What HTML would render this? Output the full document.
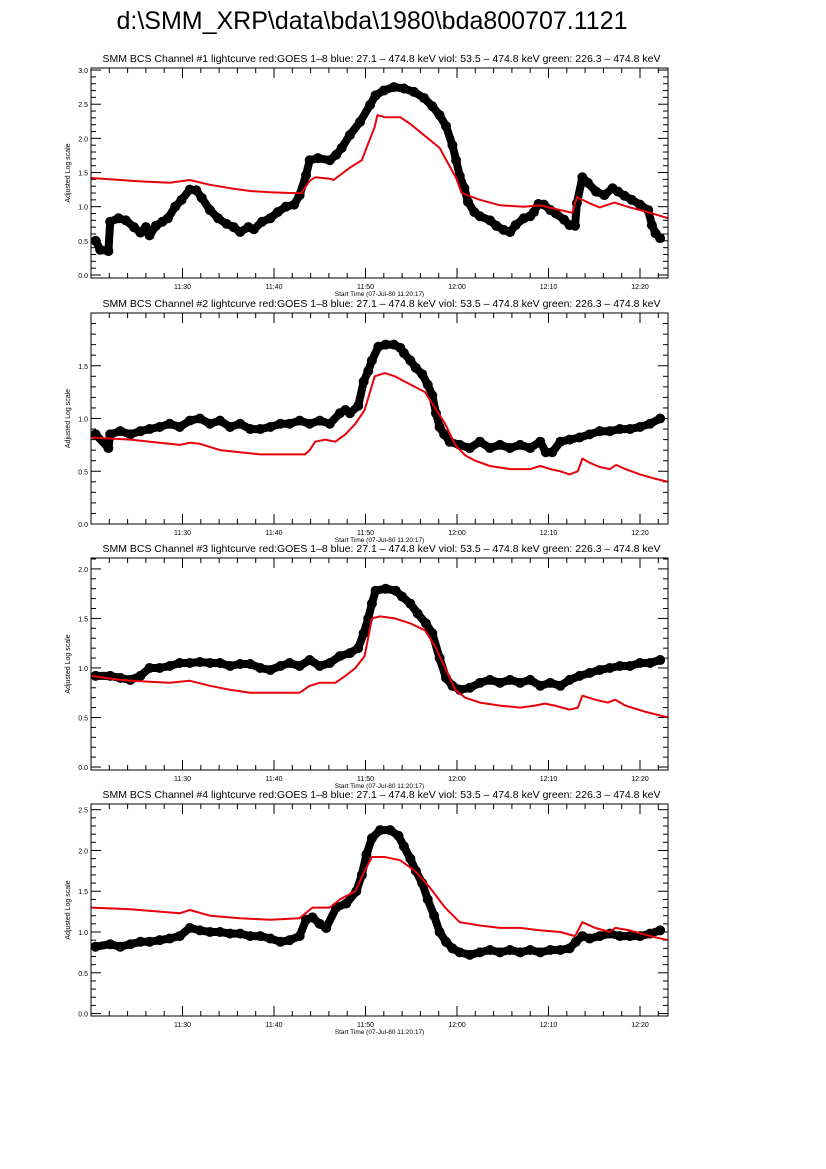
<!DOCTYPE html>
<html><head><meta charset="utf-8"><style>
body{margin:0;background:#fff;}
svg{display:block;font-family:"Liberation Sans",sans-serif;}
</style></head><body>
<svg id="chart" width="826" height="1169" viewBox="0 0 826 1169" xmlns="http://www.w3.org/2000/svg">
<rect width="826" height="1169" fill="#fff"/>
<text x="372" y="29" font-size="25" text-anchor="middle">d:\SMM_XRP\data\bda\1980\bda800707.1121</text>
</svg>
<script>
// x values: minutes after 11:20
const xTickLabels = ["11:30","11:40","11:50","12:00","12:10","12:20"];
const xTickMinutes = [10,20,30,40,50,60];

const p1BlackT = [0.5,1.0,1.9,2.1,3.0,3.8,4.7,5.4,6.0,6.4,7.1,7.8,8.4,9.2,9.9,10.8,11.5,12.1,13.0,13.9,14.8,15.6,16.3,17.2,17.8,18.7,19.6,20.4,21.3,22.2,22.8,23.5,23.9,24.8,26.1,26.8,27.4,28.3,29.4,30.5,31.1,32.0,33.1,34.2,35.3,36.4,37.3,38.1,38.8,39.5,39.9,40.3,40.8,41.2,41.9,42.5,43.6,44.3,45.1,45.8,46.4,47.3,48.0,48.4,48.9,49.5,50.2,50.8,51.7,52.3,52.9,53.1,53.7,54.3,55.2,56.1,57.0,57.6,58.3,59.1,60.0,60.9,61.3,61.7,62.2];
const p1BlackV = [0.5,0.37,0.35,0.78,0.83,0.8,0.7,0.62,0.7,0.58,0.72,0.78,0.83,1.0,1.1,1.25,1.24,1.13,0.95,0.83,0.75,0.7,0.63,0.7,0.67,0.78,0.83,0.92,1.0,1.03,1.17,1.46,1.68,1.71,1.68,1.76,1.86,2.05,2.24,2.49,2.63,2.7,2.75,2.73,2.68,2.59,2.47,2.34,2.18,1.9,1.68,1.45,1.27,1.07,0.92,0.86,0.8,0.72,0.66,0.63,0.73,0.83,0.86,0.92,1.04,1.03,0.95,0.9,0.81,0.73,0.72,1.05,1.43,1.35,1.22,1.17,1.27,1.22,1.16,1.1,1.03,0.95,0.73,0.61,0.54];
const p1RedT = [0,5.4,8.6,10.8,13.0,15.2,17.4,19.6,21.7,23.0,23.9,24.5,26.1,26.5,28.3,29.6,31.0,31.3,32.1,33.8,34.9,36.0,38.1,39.9,40.5,42.5,44.7,47.3,49.1,51.3,52.6,53.1,54.5,55.6,57.2,58.9,61.1,63.1];
const p1RedV = [1.42,1.37,1.35,1.39,1.32,1.27,1.23,1.21,1.2,1.2,1.38,1.43,1.41,1.39,1.57,1.68,2.17,2.34,2.31,2.31,2.21,2.09,1.86,1.42,1.2,1.1,1.02,1.0,1.02,0.95,0.91,1.14,1.05,0.99,1.06,0.99,0.91,0.83];

const p2BlackT = [0.5,1.9,2.1,3.2,4.3,5.4,6.4,7.5,8.6,9.7,10.8,11.9,13.0,14.1,15.2,16.3,17.4,18.5,19.6,20.7,21.7,22.8,23.9,25.0,26.1,27.2,27.8,28.3,29.2,29.8,30.3,30.7,31.4,32.2,33.1,33.8,34.2,34.9,35.5,36.2,36.8,37.3,37.7,38.1,38.6,39.2,40.3,41.4,42.5,43.6,44.7,45.8,46.9,48.0,49.1,49.7,50.4,51.3,52.3,53.4,54.5,55.6,56.7,57.8,58.9,60.0,61.1,62.2];
const p2BlackV = [0.85,0.72,0.85,0.88,0.85,0.88,0.9,0.92,0.95,0.92,0.98,1.0,0.95,0.98,0.92,0.95,0.9,0.9,0.92,0.95,0.95,0.98,0.95,0.98,0.95,1.05,1.08,1.05,1.12,1.35,1.45,1.55,1.68,1.7,1.7,1.67,1.62,1.55,1.48,1.42,1.32,1.22,1.05,0.92,0.85,0.78,0.75,0.72,0.78,0.72,0.75,0.72,0.75,0.72,0.78,0.68,0.68,0.78,0.8,0.82,0.85,0.88,0.88,0.9,0.9,0.92,0.95,1.0];
const p2RedT = [0,4.3,7.5,9.7,10.8,11.9,14.1,16.3,18.5,21.7,23.4,23.9,24.5,25.6,26.7,27.8,28.9,29.9,31.0,32.1,33.2,34.3,35.4,36.5,37.6,38.7,39.8,40.9,42.0,43.6,45.8,48.0,49.1,50.2,51.3,52.3,53.2,53.7,54.5,55.6,56.7,57.4,58.4,60.0,61.6,63.1];
const p2RedV = [0.82,0.8,0.77,0.75,0.77,0.76,0.7,0.68,0.66,0.66,0.66,0.7,0.78,0.8,0.78,0.85,0.95,1.08,1.4,1.43,1.4,1.35,1.3,1.25,1.1,0.95,0.75,0.65,0.6,0.55,0.52,0.52,0.55,0.52,0.5,0.47,0.5,0.62,0.58,0.54,0.52,0.56,0.52,0.47,0.43,0.4];

const p3BlackT = [0.5,2.1,3.2,4.3,5.4,6.4,7.5,8.6,9.7,10.8,11.9,13.0,14.1,15.2,16.3,17.4,18.5,19.6,20.7,21.7,22.8,23.9,25.0,26.1,27.2,28.3,29.2,29.8,30.3,30.7,31.1,32.2,33.3,34.0,34.9,35.7,36.6,37.3,38.1,38.8,39.5,40.3,41.4,42.5,43.6,44.7,45.8,46.9,48.0,49.1,50.2,51.3,52.3,53.4,54.5,55.6,56.7,57.8,58.9,60.0,61.1,62.2];
const p3BlackV = [0.92,0.92,0.9,0.88,0.92,1.0,1.0,1.02,1.05,1.05,1.06,1.05,1.05,1.02,1.04,1.04,1.0,0.98,1.02,1.05,1.02,1.08,1.02,1.05,1.12,1.15,1.2,1.35,1.5,1.65,1.78,1.8,1.78,1.72,1.65,1.55,1.45,1.35,1.1,0.9,0.82,0.78,0.8,0.85,0.88,0.85,0.88,0.85,0.88,0.82,0.85,0.82,0.88,0.92,0.95,0.98,1.0,1.02,1.02,1.05,1.05,1.08];
const p3RedT = [0,3.2,6.4,8.6,10.8,13.0,15.2,17.4,19.6,22.8,23.9,25.0,26.7,27.8,28.9,29.9,30.7,31.6,33.2,34.9,36.5,37.6,38.7,39.8,40.9,42.5,44.7,46.9,48.5,49.6,50.7,52.3,53.2,53.7,55.1,56.5,57.3,58.4,60.5,63.1];
const p3RedV = [0.92,0.88,0.86,0.85,0.87,0.82,0.78,0.75,0.75,0.75,0.82,0.85,0.85,0.92,1.0,1.12,1.5,1.52,1.5,1.45,1.38,1.22,1.0,0.78,0.7,0.65,0.62,0.6,0.62,0.64,0.62,0.58,0.6,0.72,0.68,0.65,0.68,0.62,0.56,0.5];

const p4BlackT = [0.5,2.1,3.2,4.3,5.4,6.4,7.5,8.6,9.7,10.8,11.9,13.0,14.1,15.2,16.3,17.4,18.5,19.6,20.7,21.7,22.8,23.5,24.2,25.0,25.7,26.8,27.9,29.0,29.6,30.1,30.7,31.6,32.7,33.6,34.2,34.9,35.5,36.2,36.8,37.5,38.1,38.8,39.5,40.3,41.4,42.5,43.6,44.7,45.8,46.9,48.0,49.1,50.2,51.3,52.3,53.0,53.7,54.5,55.6,56.7,57.8,58.9,60.0,61.1,62.2];
const p4BlackV = [0.82,0.85,0.82,0.85,0.88,0.88,0.9,0.92,0.95,1.05,1.02,1.0,1.0,0.98,0.98,0.95,0.95,0.92,0.88,0.9,0.95,1.15,1.18,1.1,1.05,1.3,1.35,1.5,1.7,1.95,2.15,2.25,2.25,2.18,2.05,1.9,1.75,1.6,1.4,1.2,1.0,0.88,0.8,0.75,0.72,0.75,0.78,0.75,0.78,0.75,0.78,0.75,0.78,0.78,0.8,0.88,0.95,0.92,0.95,0.98,0.95,0.95,0.95,0.98,1.02];
const p4RedT = [0,4.3,7.5,9.7,10.8,13.0,16.3,19.6,22.8,24.2,26.1,27.2,28.9,29.9,30.7,32.1,33.8,35.4,37.0,38.7,40.3,42.5,44.7,46.9,49.1,51.3,52.9,53.7,55.1,56.7,57.3,58.9,61.1,63.1];
const p4RedV = [1.3,1.28,1.25,1.23,1.27,1.2,1.17,1.15,1.17,1.3,1.3,1.4,1.5,1.75,1.92,1.92,1.88,1.75,1.55,1.3,1.12,1.08,1.05,1.05,1.02,1.0,0.95,1.12,1.05,1.0,1.05,1.02,0.95,0.9];

const yTickLabels1 = ["0.0","0.5","1.0","1.5","2.0","2.5","3.0"];
const yTickLabels2 = ["0.0","0.5","1.0","1.5"];
const yTickLabels3 = ["0.0","0.5","1.0","1.5","2.0"];
const yTickLabels4 = ["0.0","0.5","1.0","1.5","2.0","2.5"];

const NS="http://www.w3.org/2000/svg";
const svg=document.getElementById('chart');
function mk(tag,attrs,parent){const e=document.createElementNS(NS,tag);for(const k in attrs)e.setAttribute(k,attrs[k]);(parent||svg).appendChild(e);return e;}

const X0=91,X1=668,TMIN=0,TMAX=63.06;
const panels=[
 {n:1,top:68,bot:278,ymin:-0.044,ymax:3.03,labels:yTickLabels1,bt:p1BlackT,bv:p1BlackV,rt:p1RedT,rv:p1RedV},
 {n:2,top:313,bot:524,ymin:0,ymax:2.0,labels:yTickLabels2,bt:p2BlackT,bv:p2BlackV,rt:p2RedT,rv:p2RedV},
 {n:3,top:558,bot:770,ymin:-0.03,ymax:2.11,labels:yTickLabels3,bt:p3BlackT,bv:p3BlackV,rt:p3RedT,rv:p3RedV},
 {n:4,top:804,bot:1016,ymin:-0.03,ymax:2.57,labels:yTickLabels4,bt:p4BlackT,bv:p4BlackV,rt:p4RedT,rv:p4RedV}
];
const xs=t=>X0+(t-TMIN)/(TMAX-TMIN)*(X1-X0);

panels.forEach(p=>{
 const ys=v=>p.bot-(v-p.ymin)/(p.ymax-p.ymin)*(p.bot-p.top);
 const g=mk('g',{});
 
 
 const cx=(X0+X1)/2;
 const tt=mk('text',{x:cx+2,y:p.top-6,'font-size':10.5,'text-anchor':'middle'},g);
 tt.textContent='SMM BCS Channel #'+p.n+' lightcurve  red:GOES 1\u20138  blue: 27.1 \u2013 474.8 keV  viol: 53.5 \u2013 474.8 keV  green: 226.3 \u2013 474.8 keV';
 
 
 const tk=mk('g',{stroke:'#000','stroke-width':1},g);
 
 
 for(let m=2;m<TMAX;m+=2){
  const x=xs(m), L=(m%10===0)?10:5;
  mk('line',{x1:x,x2:x,y1:p.bot,y2:p.bot-L},tk);
  mk('line',{x1:x,x2:x,y1:p.top,y2:p.top+L},tk);
 }
 for(let i=0;i<=Math.round(p.ymax*10);i++){
  const v=i/10; if(v<p.ymin||v>p.ymax)continue;
  const y=ys(v), L=(i%5===0)?10:5;
  mk('line',{x1:X0,x2:X0+L,y1:y,y2:y},tk);
  mk('line',{x1:X1,x2:X1-L,y1:y,y2:y},tk);
 }
 p.labels.forEach((lab,i)=>{
  const t=mk('text',{x:X0-3,y:ys(parseFloat(lab))+3,'font-size':7,'text-anchor':'end'},g);
  t.textContent=lab;
  
  
 });
 xTickLabels.forEach((lab,i)=>{
  const t=mk('text',{x:xs(xTickMinutes[i]),y:p.bot+11,'font-size':7,'text-anchor':'middle'},g);
  t.textContent=lab;
  
  
 });
 const xt=mk('text',{x:cx,y:p.bot+18,'font-size':6.5,'text-anchor':'middle'},g);
 xt.textContent='Start Time (07-Jul-80 11:20:17)';
 
 
 const yc=(p.top+p.bot)/2;
 const yt=mk('text',{x:70,y:yc,'font-size':7,'text-anchor':'middle',transform:'rotate(-90 70 '+yc+')'},g);
 yt.textContent='Adjusted Log scale';
 
 
 const bpts=p.bt.map((t,i)=>xs(t).toFixed(1)+','+ys(p.bv[i]).toFixed(1)).join(' ');
 const bl=mk('polyline',{points:bpts,fill:'none',stroke:'#000','stroke-width':8,'stroke-linejoin':'round','stroke-linecap':'round'},g);
 
 
 p.bt.forEach((t,i)=>{
  const c=mk('circle',{cx:xs(t),cy:ys(p.bv[i]),r:5,fill:'#000'},g);
  
  
 });
 const rpts=p.rt.map((t,i)=>xs(t).toFixed(1)+','+ys(p.rv[i]).toFixed(1)).join(' ');
 const rl=mk('polyline',{points:rpts,fill:'none',stroke:'#e8000b','stroke-width':2,'stroke-linejoin':'round'},g);
 
 
 const box=mk('rect',{x:X0,y:p.top,width:X1-X0,height:p.bot-p.top,fill:'none',stroke:'#000','stroke-width':1},g);
 
 
});
</script>
</body></html>
